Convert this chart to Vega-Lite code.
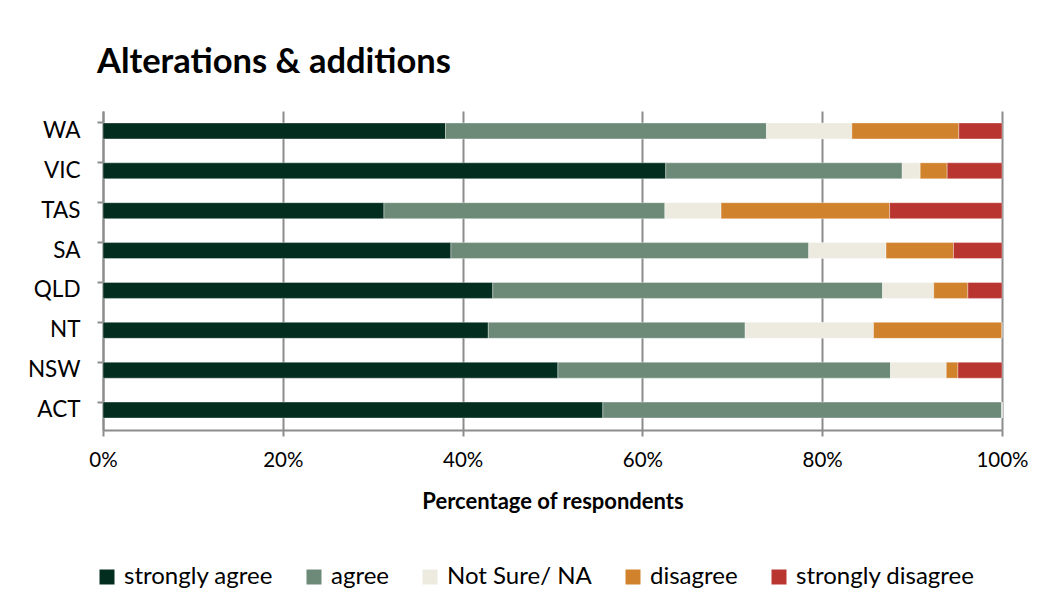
{
  "$schema": "https://vega.github.io/schema/vega-lite/v6.json",
  "autosize": {"type": "none"},
  "padding": {"left": 103, "top": 111, "right": 46, "bottom": 178},
  "width": 899,
  "height": 319,
  "background": "white",
  "title": {
    "text": "Alterations & additions",
    "anchor": "start",
    "frame": "group",
    "dx": -6,
    "offset": 4,
    "baseline": "alphabetic",
    "font": "Lato",
    "fontSize": 34.5,
    "fontWeight": "bold",
    "color": "#000000"
  },
  "data": {
    "values": [
      {"state": "WA", "response": "strongly agree", "k": 1, "pct": 38.1},
      {"state": "WA", "response": "agree", "k": 2, "pct": 35.7},
      {"state": "WA", "response": "Not Sure/ NA", "k": 3, "pct": 9.5},
      {"state": "WA", "response": "disagree", "k": 4, "pct": 11.9},
      {"state": "WA", "response": "strongly disagree", "k": 5, "pct": 4.8},
      {"state": "VIC", "response": "strongly agree", "k": 1, "pct": 62.6},
      {"state": "VIC", "response": "agree", "k": 2, "pct": 26.3},
      {"state": "VIC", "response": "Not Sure/ NA", "k": 3, "pct": 2.0},
      {"state": "VIC", "response": "disagree", "k": 4, "pct": 3.0},
      {"state": "VIC", "response": "strongly disagree", "k": 5, "pct": 6.1},
      {"state": "TAS", "response": "strongly agree", "k": 1, "pct": 31.25},
      {"state": "TAS", "response": "agree", "k": 2, "pct": 31.25},
      {"state": "TAS", "response": "Not Sure/ NA", "k": 3, "pct": 6.25},
      {"state": "TAS", "response": "disagree", "k": 4, "pct": 18.75},
      {"state": "TAS", "response": "strongly disagree", "k": 5, "pct": 12.5},
      {"state": "SA", "response": "strongly agree", "k": 1, "pct": 38.7},
      {"state": "SA", "response": "agree", "k": 2, "pct": 39.8},
      {"state": "SA", "response": "Not Sure/ NA", "k": 3, "pct": 8.6},
      {"state": "SA", "response": "disagree", "k": 4, "pct": 7.5},
      {"state": "SA", "response": "strongly disagree", "k": 5, "pct": 5.4},
      {"state": "QLD", "response": "strongly agree", "k": 1, "pct": 43.4},
      {"state": "QLD", "response": "agree", "k": 2, "pct": 43.4},
      {"state": "QLD", "response": "Not Sure/ NA", "k": 3, "pct": 5.7},
      {"state": "QLD", "response": "disagree", "k": 4, "pct": 3.8},
      {"state": "QLD", "response": "strongly disagree", "k": 5, "pct": 3.8},
      {"state": "NT", "response": "strongly agree", "k": 1, "pct": 42.9},
      {"state": "NT", "response": "agree", "k": 2, "pct": 28.6},
      {"state": "NT", "response": "Not Sure/ NA", "k": 3, "pct": 14.3},
      {"state": "NT", "response": "disagree", "k": 4, "pct": 14.3},
      {"state": "NT", "response": "strongly disagree", "k": 5, "pct": 0},
      {"state": "NSW", "response": "strongly agree", "k": 1, "pct": 50.6},
      {"state": "NSW", "response": "agree", "k": 2, "pct": 37.0},
      {"state": "NSW", "response": "Not Sure/ NA", "k": 3, "pct": 6.2},
      {"state": "NSW", "response": "disagree", "k": 4, "pct": 1.3},
      {"state": "NSW", "response": "strongly disagree", "k": 5, "pct": 4.9},
      {"state": "ACT", "response": "strongly agree", "k": 1, "pct": 55.6},
      {"state": "ACT", "response": "agree", "k": 2, "pct": 44.4},
      {"state": "ACT", "response": "Not Sure/ NA", "k": 3, "pct": 0},
      {"state": "ACT", "response": "disagree", "k": 4, "pct": 0},
      {"state": "ACT", "response": "strongly disagree", "k": 5, "pct": 0}
    ]
  },
  "mark": {"type": "bar", "stroke": "#ffffff", "strokeOpacity": 0.35, "strokeWidth": 1},
  "encoding": {
    "y": {
      "field": "state",
      "type": "nominal",
      "sort": ["WA", "VIC", "TAS", "SA", "QLD", "NT", "NSW", "ACT"],
      "scale": {"paddingInner": 0.6, "paddingOuter": 0.3},
      "axis": {
        "title": null,
        "bandPosition": 0,
        "domainColor": "#8c8c8c",
        "domainWidth": 2,
        "tickColor": "#8c8c8c",
        "tickWidth": 2,
        "tickSize": 6,
        "labelFont": "Lato",
        "labelFontSize": 22.5,
        "labelColor": "#000000",
        "labelPadding": 17
      }
    },
    "x": {
      "field": "pct",
      "type": "quantitative",
      "stack": "normalize",
      "scale": {"domain": [0, 1], "nice": false},
      "axis": {
        "title": "Percentage of respondents",
        "titleFont": "Lato",
        "titleFontSize": 22,
        "titleFontWeight": "bold",
        "titleColor": "#000000",
        "titlePadding": 21,
        "format": ".0%",
        "values": [0, 0.2, 0.4, 0.6, 0.8, 1],
        "grid": true,
        "gridColor": "#8c8c8c",
        "gridWidth": 2,
        "domainColor": "#8c8c8c",
        "domainWidth": 2,
        "tickColor": "#8c8c8c",
        "tickWidth": 2,
        "tickSize": 6,
        "labelFont": "Lato",
        "labelFontSize": 20.5,
        "labelColor": "#000000",
        "labelPadding": 14,
        "labelFlush": false
      }
    },
    "color": {
      "field": "response",
      "type": "nominal",
      "scale": {
        "domain": ["strongly agree", "agree", "Not Sure/ NA", "disagree", "strongly disagree"],
        "range": ["#032e1f", "#6d8a78", "#edebe0", "#d0822c", "#b83530"]
      },
      "legend": {
        "title": null,
        "orient": "none",
        "legendX": -8,
        "legendY": 454,
        "direction": "horizontal",
        "columns": 5,
        "columnPadding": 29,
        "symbolType": "square",
        "symbolSize": 225,
        "symbolStrokeWidth": 0,
        "symbolOpacity": 1,
        "labelFont": "Lato",
        "labelFontSize": 24,
        "labelColor": "#000000",
        "labelOffset": 5,
        "labelLimit": 400,
        "padding": 0
      }
    },
    "order": {"field": "k", "type": "quantitative"}
  },
  "config": {"view": {"stroke": null}}
}
